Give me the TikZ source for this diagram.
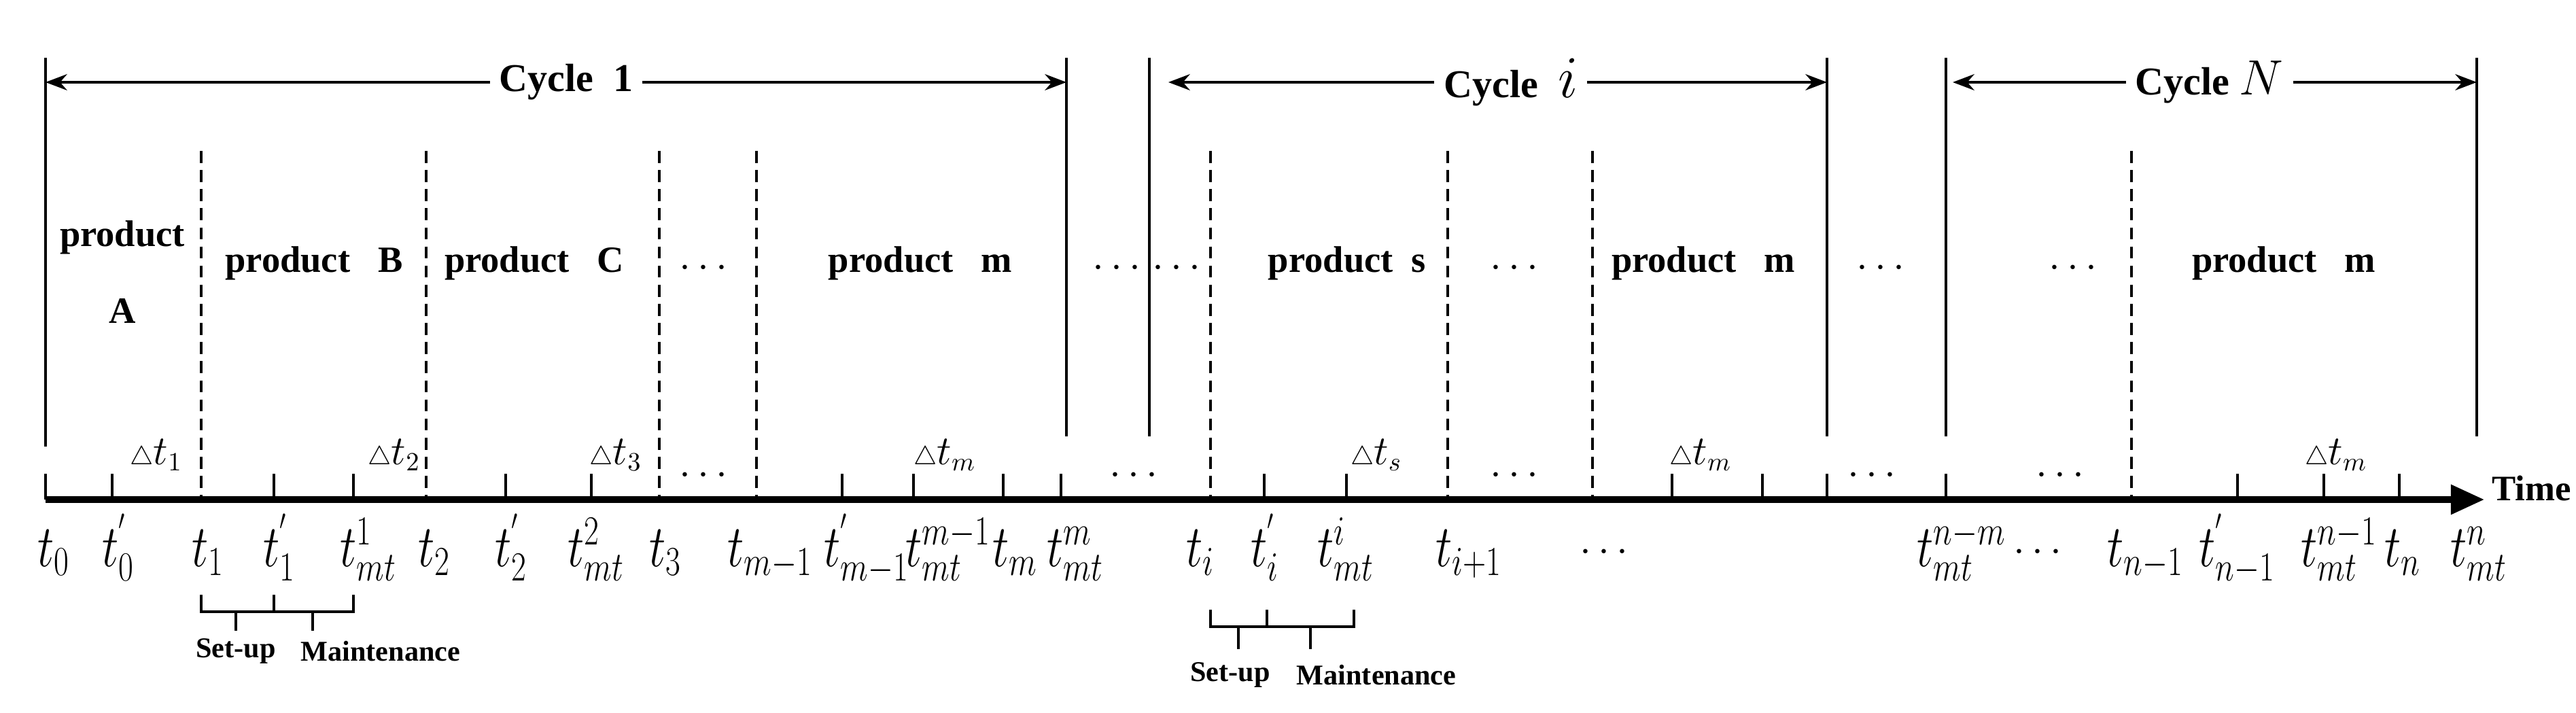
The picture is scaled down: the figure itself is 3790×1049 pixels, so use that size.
\documentclass[tikz,border=0pt]{standalone}
\usepackage{fontspec}
\setmainfont{Liberation Serif}
\usetikzlibrary{arrows.meta}
\newcommand\tlb[1]{\scalebox{0.78}[1]{$#1$}}
\begin{document}
\begin{tikzpicture}[x=0.01cm,y=-0.01cm,
  solidline/.style={line width=1.3pt},
  dashline/.style={line width=1.3pt,dash pattern=on 5pt off 3pt},
  tickline/.style={line width=1.1pt},
  prod/.style={font=\fontsize{15.5}{18}\selectfont\bfseries,align=center},
  tlab/.style={anchor=base west,inner sep=0pt,font=\fontsize{24}{28}\selectfont},
  dlab/.style={anchor=base,inner sep=0pt,font=\fontsize{16}{20}\selectfont},
  small/.style={font=\fontsize{12}{14}\selectfont\bfseries,inner sep=1pt},
  cyc/.style={font=\fontsize{16.5}{20}\selectfont\bfseries,fill=white,inner sep=4pt},
  dots/.style={font=\fontsize{17}{20}\selectfont\bfseries}]
\useasboundingbox (0,0) rectangle (3790,1049);
% axis
\coordinate (a0) at (67,735);
\coordinate (a1) at (3655,735);
\draw[line width=2.6pt,-{Triangle[length=14pt,width=12pt]}] (a0) -- (a1);
\node[font=\fontsize{15}{18}\selectfont\bfseries,anchor=west,inner sep=1pt] (time) at (3662,718) {Time};
% solid cycle lines
\foreach \x/\t in {67/657,1569/642,1691/642,2688/642,2863/642,3644/642}
  \draw[solidline] (\x,85) -- (\x,\t);
% dashed lines
\foreach \x in {296,627,970,1113,1781,2130,2343,3136}
  \draw[dashline] (\x,222) -- (\x,735);
% ticks
\foreach \x in {67,165,403,520,744,870,1239,1344,1476,1561,1860,1981,2460,2593,2688,2863,3292,3419,3530}
  \draw[tickline] (\x,697) -- (\x,735);
% cycle arrows
\coordinate (c1a) at (67,121); \coordinate (c1b) at (1569,121);
\coordinate (cia) at (1691,121); \coordinate (cib) at (2688,121);
\coordinate (cna) at (2863,121); \coordinate (cnb) at (3644,121);
\draw[line width=1.2pt,{Stealth[length=9pt]}-{Stealth[length=9pt]}] (c1a) -- node[cyc,pos=0.51] (cyc1) {Cycle\ \ 1} (c1b);
\draw[line width=1.2pt,{Stealth[length=9pt]}-{Stealth[length=9pt]}] (cia) ++(28,0) -- node[cyc,pos=0.52] (cyci) {Cycle\ \ \fontsize{26}{26}\selectfont$i$} (cib);
\draw[line width=1.2pt,{Stealth[length=9pt]}-{Stealth[length=9pt]}] (cna) ++(10,0) -- node[cyc,pos=0.49] (cycn) {Cycle\ \fontsize{22}{22}\selectfont$N$} (cnb);
% products
\node[prod] (pA) at (180,400) {product\\[14pt]A};
\node[prod] (pB) at (462,387) {product\ \ \ B};
\node[prod] (pC) at (786,387) {product\ \ \ C};
\node[prod] (pm1) at (1354,387) {product\ \ \ m};
\node[prod] (ps) at (1982,387) {product\ \ s};
\node[prod] (pm2) at (2506,387) {product\ \ \ m};
\node[prod] (pm3) at (3360,387) {product\ \ \ m};
\foreach \x/\n in {1035/d1,1643/d2,1731/d3,2228/d4,2767/d5,3050/d6}
  \node[dots] (\n) at (\x,395) {$\cdots$};
\foreach \x/\n in {1035/e1,1668/e2,2228/e3,2754/e4,3031/e5}
  \node[dots] (\n) at (\x,700) {$\cdots$};
% delta labels
\foreach \x/\s/\n in {230/1/g1,580/2/g2,906/3/g3,1390/m/g4,2025/s/g5,2502/m/g6,3437/m/g7}
  \node[dlab] (\n) at (\x,683) {{\fontsize{11}{11}\selectfont$\triangle$}$t_{\s}$};
% t labels
\node[tlab] (l1) at (55,833) {\tlb{t_0}};
\node[tlab] (l2) at (150,833) {\tlb{t_0^{'}}};
\node[tlab] (l3) at (282,833) {\tlb{t_1}};
\node[tlab] (l4) at (387,833) {\tlb{t_1^{'}}};
\node[tlab] (l5) at (500,833) {\tlb{t_{mt}^{1}}};
\node[tlab] (l6) at (615,833) {\tlb{t_2}};
\node[tlab] (l7) at (728,833) {\tlb{t_2^{'}}};
\node[tlab] (l8) at (835,833) {\tlb{t_{mt}^{2}}};
\node[tlab] (l9) at (955,833) {\tlb{t_3}};
\node[tlab] (l10) at (1070,833) {\tlb{t_{m-1}}};
\node[tlab] (l11) at (1212,833) {\tlb{t_{m-1}^{'}}};
\node[tlab] (l12) at (1332,833) {\tlb{t_{mt}^{m-1}}};
\node[tlab] (l13) at (1460,833) {\tlb{t_m}};
\node[tlab] (l14) at (1540,833) {\tlb{t_{mt}^{m}}};
\node[tlab] (l15) at (1745,833) {\tlb{t_i}};
\node[tlab] (l16) at (1840,833) {\tlb{t_i^{'}}};
\node[tlab] (l17) at (1938,833) {\tlb{t_{mt}^{i}}};
\node[tlab] (l18) at (2112,833) {\tlb{t_{i+1}}};
\node[dots] (f1) at (2360,813) {$\cdots$};
\node[tlab] (l19) at (2820,833) {\tlb{t_{mt}^{n-m}}};
\node[dots] (f2) at (2998,813) {$\cdots$};
\node[tlab] (l20) at (3100,833) {\tlb{t_{n-1}}};
\node[tlab] (l21) at (3235,833) {\tlb{t_{n-1}^{'}}};
\node[tlab] (l22) at (3385,833) {\tlb{t_{mt}^{n-1}}};
\node[tlab] (l23) at (3508,833) {\tlb{t_n}};
\node[tlab] (l24) at (3605,833) {\tlb{t_{mt}^{n}}};
% brackets
\draw[line width=1.4pt] (296,875) -- (296,900) -- (403,900) -- (403,875);
\draw[line width=1.4pt] (403,900) -- (520,900) -- (520,875);
\draw[line width=1.1pt] (347,900) -- (347,928);
\draw[line width=1.1pt] (460,900) -- (460,928);
\node[small] (su1) at (347,958) {Set-up};
\node[small] (ma1) at (560,958) {Maintenance};
\draw[line width=1.4pt] (1781,897) -- (1781,922) -- (1864,922) -- (1864,897);
\draw[line width=1.4pt] (1864,922) -- (1992,922) -- (1992,897);
\draw[line width=1.1pt] (1822,922) -- (1822,955);
\draw[line width=1.1pt] (1928,922) -- (1928,955);
\node[small] (su2) at (1810,993) {Set-up};
\node[small] (ma2) at (2025,993) {Maintenance};
\end{tikzpicture}
\end{document}
